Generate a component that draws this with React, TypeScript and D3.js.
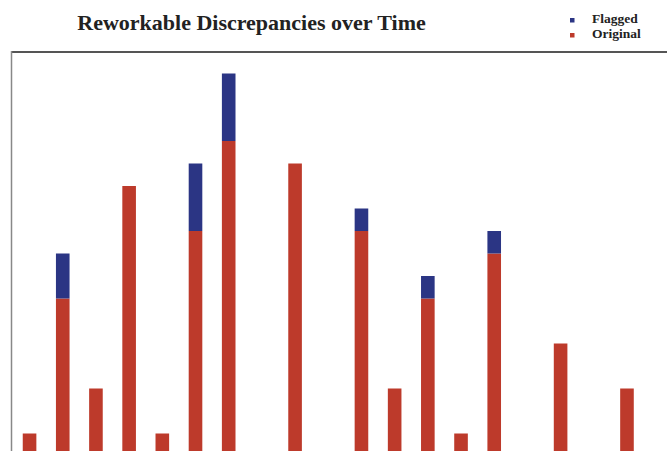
import React from "react";
import * as d3 from "d3";

// Time periods along the x axis (last slot is empty)
const periods = [
  "1", "2", "3", "4", "5", "6", "7", "8", "9", "10",
  "11", "12", "13", "14", "15", "16", "17", "18", "19", "20",
];
// Original discrepancy counts per period
const originalCounts = [1, 7, 3, 12, 1, 10, 14, 0, 13, 0, 10, 3, 7, 1, 9, 0, 5, 0, 3, 0];
// Flagged discrepancy counts stacked on top
const flaggedCounts = [0, 2, 0, 0, 0, 3, 3, 0, 0, 0, 1, 0, 1, 0, 1, 0, 0, 0, 0, 0];

const seriesKeys = ["original", "flagged"];
const legendItems = ["Flagged", "Original"];

const W = 667;
const H = 451;
const RED = "#bd3a2b";
const BLUE = "#2b3584";

export default function App() {
  const rows = periods.map((p, i) => ({
    period: p,
    original: originalCounts[i],
    flagged: flaggedCounts[i],
  }));

  const x = d3
    .scaleBand<string>()
    .domain(periods)
    .range([12.96, 12.96 + 33.19 * periods.length])
    .paddingInner(0.59)
    .paddingOuter(0.295);

  const y = d3.scaleLinear().domain([0, 18]).range([456, 51]);

  const stack = d3.stack<any>().keys(seriesKeys);
  const layers = stack(rows);
  const colors: Record<string, string> = { original: RED, flagged: BLUE };

  const serif = "'Liberation Serif', 'Times New Roman', serif";

  return (
    <div style={{ position: "fixed", left: 0, top: 0 }}>
      <svg width={W} height={H} style={{ display: "block", background: "#fff" }}>
        <text
          x={251.5}
          y={30}
          textAnchor="middle"
          fontFamily={serif}
          fontWeight="bold"
          fontSize={22}
          fill="#222"
        >
          Reworkable Discrepancies over Time
        </text>

        {legendItems.map((name, i) => (
          <g key={name} transform={`translate(570, ${18 + i * 15})`}>
            <rect x={0} y={0} width={4.5} height={4.5} fill={name === "Flagged" ? BLUE : RED} />
            <text
              x={22}
              y={4.5}
              fontFamily={serif}
              fontWeight="bold"
              fontSize={13.5}
              fill="#222"
            >
              {name}
            </text>
          </g>
        ))}

        {/* plot frame */}
        <line x1={11.5} x2={W} y1={52} y2={52} stroke="#555" strokeWidth={2} />
        <line x1={11.5} x2={11.5} y1={51} y2={H} stroke="#888" strokeWidth={1.5} />

        {layers.map((layer) => (
          <g key={layer.key} fill={colors[layer.key]}>
            {layer.map((d, i) => {
              const h = y(d[0]) - y(d[1]);
              if (h <= 0) return null;
              return (
                <rect
                  key={i}
                  x={x(periods[i])}
                  y={y(d[1])}
                  width={x.bandwidth()}
                  height={h}
                />
              );
            })}
          </g>
        ))}
      </svg>
    </div>
  );
}
